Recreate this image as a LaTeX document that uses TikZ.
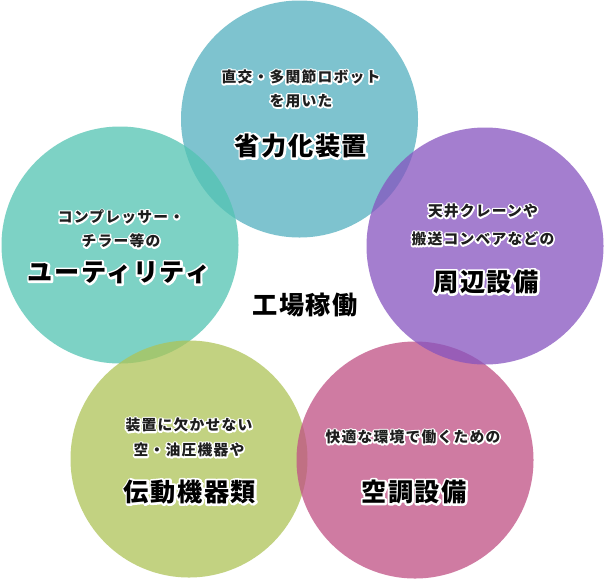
\documentclass[tikz,border=0pt]{standalone}
\usepackage{fontspec}
\setmainfont{Noto Sans CJK JP}
\newfontfamily\smallfont{Noto Sans CJK JP}[LetterSpace=8]
\newfontfamily\bigfont{Noto Sans CJK JP}[LetterSpace=6]
% white outline drawn by stroking the glyphs, then the filled text on top
\newcommand\outl[2]{\leavevmode\rlap{\special{pdf:literal direct 1 Tr 1 1 1 RG #1 w 1 j 1 J}#2\special{pdf:literal direct 0 Tr}}#2}
\newcommand\halo[1]{\outl{3.2}{#1}}
\newcommand\rim[1]{\outl{4.2}{#1}}
\definecolor{cTop}{RGB}{83,176,191}
\definecolor{cLeft}{RGB}{82,196,178}
\definecolor{cRight}{RGB}{134,83,191}
\definecolor{cBL}{RGB}{174,196,87}
\definecolor{cBR}{RGB}{192,80,132}
\definecolor{ink}{RGB}{30,30,30}
\begin{document}
\begin{tikzpicture}[x=1pt,y=-1pt,
  bubble/.style={circle,inner sep=0pt,minimum size=237pt,fill opacity=0.75,draw=none},
  sub/.style={font=\smallfont\bfseries\fontsize{14.8}{16}\selectfont,text=ink,inner sep=0pt},
  head/.style={font=\bigfont\bfseries\fontsize{25.2}{28}\selectfont,text=black,inner sep=0pt}]
\fill[white] (0,0) rectangle (604,579);
\useasboundingbox (0,0) rectangle (604,579);
% circles
\node[bubble,fill=cTop]   (top)   at (299.5,119) {};
\node[bubble,fill=cLeft]  (left)  at (120,245) {};
\node[bubble,fill=cBL]    (bl)    at (189,459) {};
\node[bubble,fill=cBR]    (br)    at (415,460) {};
\node[bubble,fill=cRight] (right) at (485,246) {};
% top
\node[sub]  (topa) at (301,77)  {\halo{直交・多関節ロボット}};
\node[sub]  (topb) at (301,101) {\halo{を用いた}};
\node[head] (toph) at (301,146) {\rim{省力化装置}};
% left
\node[sub]  (lefta) at (121,217) {\halo{コンプレッサー・}};
\node[sub]  (leftb) at (121,241) {\halo{チラー等の}};
\node[head] (lefth) at (119,273) {\rim{ユーティリティ}};
% right
\node[sub]  (righta) at (483,211) {\halo{天井クレーンや}};
\node[sub]  (rightb) at (483,239) {\halo{搬送コンベアなどの}};
\node[head] (righth) at (486,282) {\rim{周辺設備}};
% bottom left
\node[sub]  (bla) at (189,425) {\halo{装置に欠かせない}};
\node[sub]  (blb) at (189,450) {\halo{空・油圧機器や}};
\node[head] (blh) at (190,492) {\rim{伝動機器類}};
% bottom right
\node[sub]  (bra) at (413,437) {\halo{快適な環境で働くための}};
\node[head] (brh) at (414,492) {\rim{空調設備}};
% centre
\node[head] (centre) at (305,305) {\rim{工場稼働}};
\end{tikzpicture}
\end{document}
